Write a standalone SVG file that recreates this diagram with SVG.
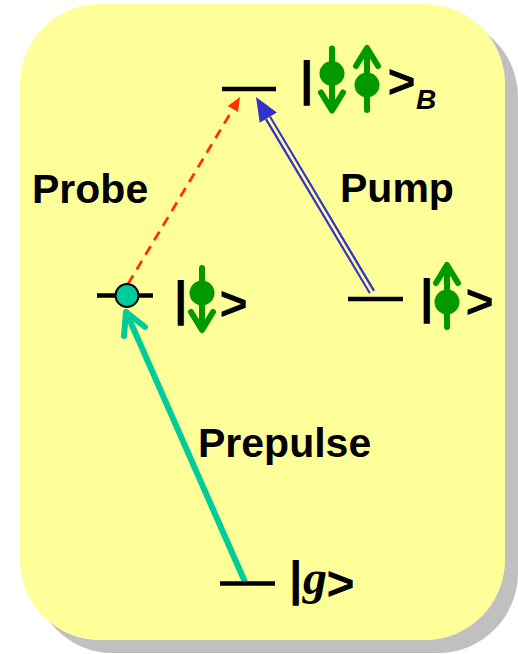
<svg xmlns="http://www.w3.org/2000/svg" width="518" height="654" viewBox="0 0 518 654">
  <style>
    .lvl { stroke: #000; stroke-width: 4.5; fill: none; }
    .lbl { font-family: "Liberation Sans", Arial, sans-serif; font-weight: bold; font-size: 41px; fill: #000; }
    .ket { font-family: "Liberation Sans", Arial, sans-serif; font-weight: bold; font-size: 48px; fill: #000; }
    .sub { font-family: "Liberation Sans", Arial, sans-serif; font-weight: bold; font-style: italic; font-size: 28px; fill: #000; }
    .gsym { font-family: "Liberation Serif", "Times New Roman", serif; font-weight: bold; font-style: italic; font-size: 48px; fill: #000; }
    .spin line, .spin polyline { stroke: #009900; stroke-width: 6; fill: none; stroke-linecap: round; stroke-linejoin: round; }
    .spin circle, .spin polygon { fill: #009900; }
  </style>
  <defs>
    <g id="spinDown" class="spin">
      <line x1="0" y1="-25" x2="0" y2="34"/>
      <circle cx="0" cy="0" r="12.5"/>
      <polyline points="-11,19 0,37 11,19"/>
      <polygon points="-6,26 6,26 0,40"/>
    </g>
  </defs>

  <g id="background">
    <rect x="33" y="17" width="485" height="636" rx="80" ry="80" fill="#C0C0C0"/>
    <rect x="20" y="4" width="485" height="636" rx="80" ry="80" fill="#FFFF99"/>
  </g>

  <g id="connectors">
    <g id="probe-arrow">
      <line x1="128" y1="284" x2="233" y2="109" stroke="#FF3300" stroke-width="2.8" stroke-dasharray="10,7"/>
      <polygon points="240,97 238,112 227.7,105.9" fill="#FF3300"/>
    </g>
    <g id="pump-arrow">
      <line x1="372" y1="292" x2="268" y2="118" stroke="#3333CC" stroke-width="7"/>
      <line x1="373" y1="294" x2="267" y2="116" stroke="#FFFF99" stroke-width="2.5"/>
      <polygon points="256,97 276.9,112.5 259.7,122.7" fill="#3333CC"/>
    </g>
    <g id="prepulse-arrow">
      <line x1="245" y1="582" x2="127" y2="314" stroke="#00CC99" stroke-width="6"/>
      <polyline points="124,336 126,312 145,327" stroke="#00CC99" stroke-width="6" fill="none" stroke-linecap="round" stroke-linejoin="round"/>
    </g>
  </g>

  <g id="level-B">
    <line class="lvl" x1="222" y1="89" x2="276" y2="89"/>
    <text class="ket" x="300" y="95">|</text>
    <use href="#spinDown" transform="translate(332,73.5)"/>
    <use href="#spinDown" transform="translate(367,85) scale(1,-1)"/>
    <text class="ket" x="387.5" y="98">&gt;</text>
    <text class="sub" x="416" y="109">B</text>
  </g>

  <g id="level-down">
    <line class="lvl" x1="97" y1="295.5" x2="153" y2="295.5"/>
    <circle cx="127" cy="295.5" r="11.5" fill="#00CC99" stroke="#000" stroke-width="2"/>
    <text class="ket" x="174" y="315">|</text>
    <use href="#spinDown" transform="translate(202,293)"/>
    <text class="ket" x="219.5" y="320">&gt;</text>
  </g>

  <g id="level-up">
    <line class="lvl" x1="348" y1="299" x2="403" y2="299"/>
    <text class="ket" x="420" y="313">|</text>
    <use href="#spinDown" transform="translate(447,302) scale(1,-1)"/>
    <text class="ket" x="465.5" y="318">&gt;</text>
  </g>

  <g id="level-g">
    <line class="lvl" x1="220" y1="583.5" x2="275" y2="583.5"/>
    <text class="ket" x="289" y="595">|</text>
    <text class="gsym" x="303" y="594">g</text>
    <text class="ket" x="326.5" y="600">&gt;</text>
  </g>

  <g id="labels">
    <text class="lbl" x="32" y="203">Probe</text>
    <text class="lbl" x="340" y="202">Pump</text>
    <text class="lbl" x="198" y="457">Prepulse</text>
  </g>
</svg>
